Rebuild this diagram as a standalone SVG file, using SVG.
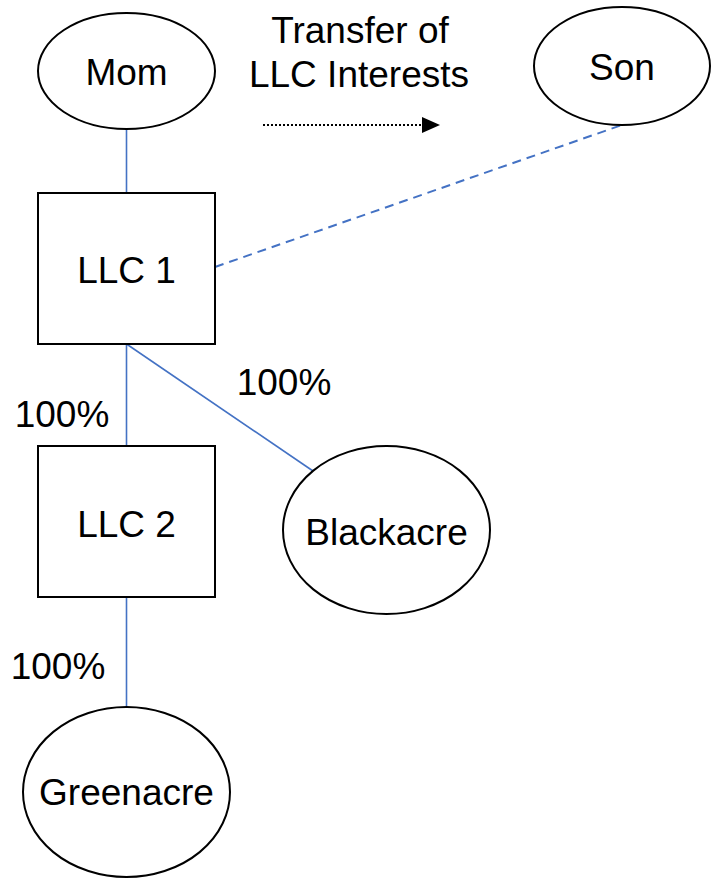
<svg xmlns="http://www.w3.org/2000/svg" width="711" height="878" viewBox="0 0 711 878">
  <style>
    .shape { fill: #ffffff; stroke: #000000; stroke-width: 2; }
    .label { font-family: "Liberation Sans", Arial, sans-serif; font-size: 37px; fill: #000000; text-anchor: middle; }
    .link { stroke: #4472c4; stroke-width: 1.6; fill: none; }
    .dashed { stroke-dasharray: 9 6; stroke-width: 2; }
    .transfer { stroke: #000000; stroke-width: 2; stroke-dasharray: 2 2; fill: none; }
  </style>

  <rect width="711" height="878" fill="#ffffff"/>

  <!-- connectors -->
  <g id="connectors">
    <line class="link" x1="126.5" y1="129" x2="126.5" y2="193"/>
    <line class="link dashed" x1="215" y1="267" x2="622" y2="125"/>
    <line class="link" x1="126.5" y1="344" x2="126.5" y2="446"/>
    <line class="link" x1="126.5" y1="344" x2="313" y2="471"/>
    <line class="link" x1="126.5" y1="597" x2="126.5" y2="707"/>
    <line class="transfer" x1="263" y1="125" x2="423" y2="125"/>
    <path d="M422,117 L440,125 L422,133 Z" fill="#000000"/>
  </g>

  <!-- transfer caption -->
  <g id="transfer-label">
    <text class="label" x="360" y="43">Transfer of</text>
    <text class="label" x="359" y="87">LLC Interests</text>
  </g>

  <g id="mom">
    <ellipse class="shape" cx="126.5" cy="71" rx="88.5" ry="58"/>
    <text class="label" x="126.5" y="85">Mom</text>
  </g>

  <g id="son">
    <ellipse class="shape" cx="622" cy="66" rx="88" ry="59"/>
    <text class="label" x="622" y="80">Son</text>
  </g>

  <g id="llc1">
    <rect class="shape" x="38" y="193" width="177" height="151"/>
    <text class="label" x="126.5" y="283">LLC 1</text>
  </g>

  <g id="llc2">
    <rect class="shape" x="38" y="446" width="177" height="151"/>
    <text class="label" x="126.5" y="537">LLC 2</text>
  </g>

  <g id="blackacre">
    <ellipse class="shape" cx="386.5" cy="530" rx="103.5" ry="84"/>
    <text class="label" x="386.5" y="545">Blackacre</text>
  </g>

  <g id="greenacre">
    <ellipse class="shape" cx="126.5" cy="792" rx="103.5" ry="85"/>
    <text class="label" x="126.5" y="805">Greenacre</text>
  </g>

  <!-- ownership percentages -->
  <g id="percentages">
    <text class="label" x="62" y="427">100%</text>
    <text class="label" x="284" y="395">100%</text>
    <text class="label" x="58" y="679">100%</text>
  </g>
</svg>
